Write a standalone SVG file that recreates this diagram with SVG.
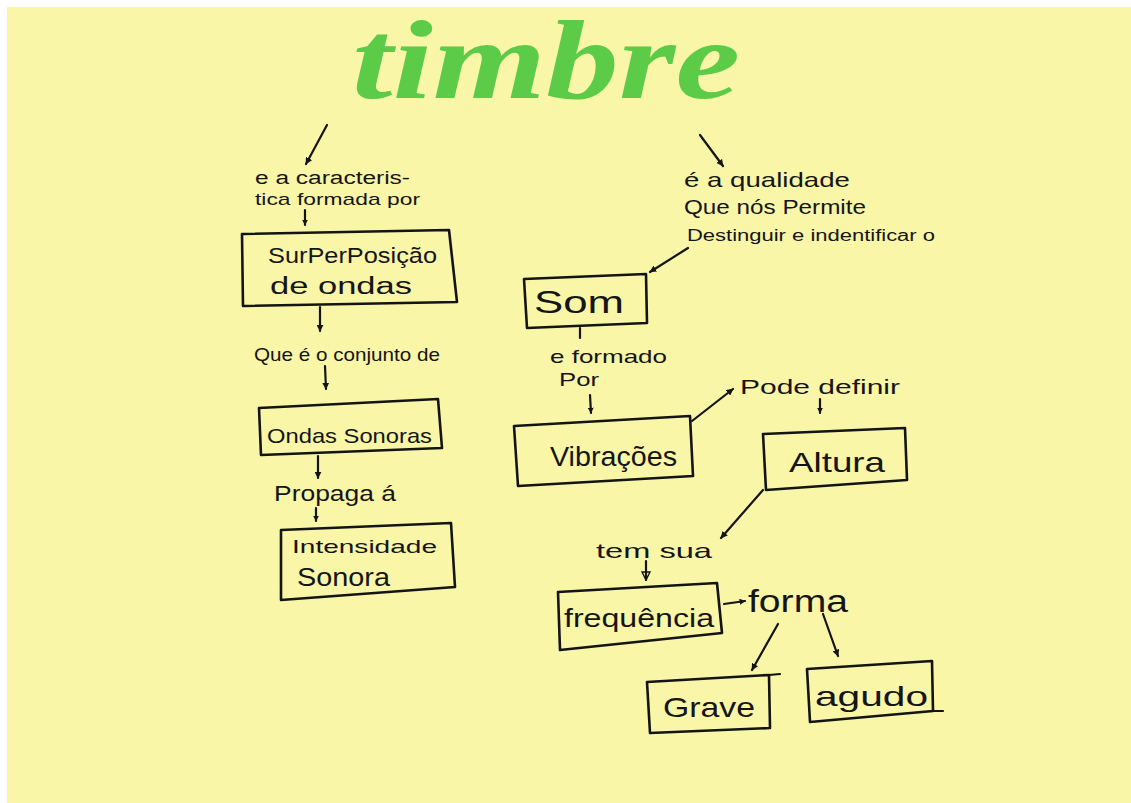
<svg xmlns="http://www.w3.org/2000/svg" width="1131" height="803" viewBox="0 0 1131 803">
<style>
.box{fill:none;stroke:#141414;stroke-width:2.6;stroke-linejoin:round}
.ln{fill:none;stroke:#141414;stroke-width:2.2;stroke-linecap:round}
.t{font-family:"Liberation Sans",Arial,sans-serif;fill:#151515}
.title{font-family:"Liberation Serif",serif;font-style:italic;font-weight:bold;fill:#5ccb48}
</style>
<defs>
<marker id="ah" viewBox="0 0 10 10" refX="9" refY="5" markerWidth="7" markerHeight="7" orient="auto" markerUnits="userSpaceOnUse">
<path d="M0,0 L10,5 L0,10 z" fill="#141414"/>
</marker>
<marker id="ahs" viewBox="0 0 10 10" refX="9" refY="5" markerWidth="6" markerHeight="6" orient="auto" markerUnits="userSpaceOnUse">
<path d="M0,0 L10,5 L0,10 z" fill="#141414"/>
</marker>
<marker id="aho" viewBox="0 0 10 10" refX="9" refY="5" markerWidth="10" markerHeight="10" orient="auto" markerUnits="userSpaceOnUse">
<path d="M1,1 L9,5 L1,9 z" fill="none" stroke="#141414" stroke-width="1.4"/>
</marker>
</defs>
<rect x="0" y="0" width="1131" height="803" fill="#ffffff"/>
<rect x="7" y="7" width="1124" height="796" fill="#f9f6a8"/>

<g id="title"><text class="title" x="352" y="98" font-size="112" textLength="388" lengthAdjust="spacingAndGlyphs">timbre</text></g>

<g id="connectors">
<line class="ln" x1="327" y1="125" x2="306" y2="164" marker-end="url(#ah)" stroke-width="2.6"/>
<text class="t" x="255" y="184" font-size="18" textLength="155" lengthAdjust="spacingAndGlyphs">e a caracteris-</text>
<text class="t" x="255" y="205" font-size="17" textLength="165" lengthAdjust="spacingAndGlyphs">tica formada por</text>
<line class="ln" x1="305" y1="210" x2="305" y2="225" marker-end="url(#ahs)"/>
<line class="ln" x1="320" y1="307" x2="320" y2="331" marker-end="url(#ah)"/>
<text class="t" x="254" y="361" font-size="19" textLength="186" lengthAdjust="spacingAndGlyphs">Que é o conjunto de</text>
<line class="ln" x1="325" y1="366" x2="326" y2="389" marker-end="url(#ah)"/>
<line class="ln" x1="318" y1="456" x2="318" y2="478" marker-end="url(#ah)"/>
<text class="t" x="274" y="501" font-size="22" textLength="122" lengthAdjust="spacingAndGlyphs">Propaga á</text>
<line class="ln" x1="316" y1="508" x2="316" y2="521" marker-end="url(#ahs)"/>

<line class="ln" x1="700" y1="135" x2="723" y2="166" marker-end="url(#ah)" stroke-width="2.6"/>
<text class="t" x="684" y="187" font-size="21" textLength="166" lengthAdjust="spacingAndGlyphs">é a qualidade</text>
<text class="t" x="684" y="214" font-size="20" textLength="182" lengthAdjust="spacingAndGlyphs">Que nós Permite</text>
<text class="t" x="687" y="241" font-size="16" textLength="248" lengthAdjust="spacingAndGlyphs">Destinguir e indentificar o</text>
<line class="ln" x1="688" y1="248" x2="650" y2="272" marker-end="url(#ah)"/>
<line class="ln" x1="580" y1="328" x2="580" y2="338"/>
<text class="t" x="550" y="363" font-size="19" textLength="117" lengthAdjust="spacingAndGlyphs">e formado</text>
<text class="t" x="559" y="386" font-size="19" textLength="40" lengthAdjust="spacingAndGlyphs">Por</text>
<line class="ln" x1="590" y1="395" x2="591" y2="413" marker-end="url(#ahs)"/>
<line class="ln" x1="692" y1="421" x2="733" y2="389" marker-end="url(#ah)"/>
<text class="t" x="740" y="394" font-size="21" textLength="160" lengthAdjust="spacingAndGlyphs">Pode definir</text>
<line class="ln" x1="820" y1="399" x2="820" y2="413" marker-end="url(#ahs)"/>
<line class="ln" x1="763" y1="490" x2="721" y2="538" marker-end="url(#ah)"/>
<text class="t" x="596" y="558" font-size="21" textLength="116" lengthAdjust="spacingAndGlyphs">tem sua</text>
<line class="ln" x1="646" y1="561" x2="646" y2="580" marker-end="url(#aho)"/>
<line class="ln" x1="724" y1="604" x2="745" y2="601" marker-end="url(#ahs)"/>
<text class="t" x="748" y="612" font-size="31" textLength="100" lengthAdjust="spacingAndGlyphs">forma</text>
<line class="ln" x1="778" y1="624" x2="752" y2="670" marker-end="url(#ah)"/>
<line class="ln" x1="823" y1="614" x2="838" y2="656" marker-end="url(#ah)"/>
</g>

<g id="node-superposicao">
<polygon class="box" points="242,234 449,230 457,302 243,306"/>
<text class="t" x="268" y="263" font-size="22" textLength="169" lengthAdjust="spacingAndGlyphs">SurPerPosição</text>
<text class="t" x="270" y="294" font-size="23" textLength="142" lengthAdjust="spacingAndGlyphs">de ondas</text>
</g>
<g id="node-ondas">
<polygon class="box" points="259,408 438,399 442,448 261,455"/>
<text class="t" x="267" y="443" font-size="21" textLength="165" lengthAdjust="spacingAndGlyphs">Ondas Sonoras</text>
</g>
<g id="node-intensidade">
<polygon class="box" points="281,530 451,523 455,587 281,600"/>
<text class="t" x="292" y="553" font-size="19" textLength="145" lengthAdjust="spacingAndGlyphs">Intensidade</text>
<text class="t" x="297" y="586" font-size="25" textLength="93" lengthAdjust="spacingAndGlyphs">Sonora</text>
</g>
<g id="node-som">
<polygon class="box" points="524,279 646,274 647,323 527,328"/>
<text class="t" x="534" y="313" font-size="31" textLength="90" lengthAdjust="spacingAndGlyphs">Som</text>
</g>
<g id="node-vibracoes">
<polygon class="box" points="514,426 690,416 693,476 518,486"/>
<text class="t" x="550" y="466" font-size="28" textLength="127" lengthAdjust="spacingAndGlyphs">Vibrações</text>
</g>
<g id="node-altura">
<polygon class="box" points="763,434 905,428 907,480 766,490"/>
<text class="t" x="789" y="472" font-size="28" textLength="96" lengthAdjust="spacingAndGlyphs">Altura</text>
</g>
<g id="node-frequencia">
<polygon class="box" points="558,592 717,583 722,633 560,650"/>
<text class="t" x="564" y="627" font-size="26" textLength="150" lengthAdjust="spacingAndGlyphs">frequência</text>
</g>
<g id="node-grave">
<polygon class="box" points="647,682 769,675 770,728 650,733"/>
<line class="ln" x1="769" y1="675" x2="780" y2="674"/>
<text class="t" x="663" y="717" font-size="28" textLength="92" lengthAdjust="spacingAndGlyphs">Grave</text>
</g>
<g id="node-agudo">
<polygon class="box" points="807,669 932,661 933,711 810,722"/>
<line class="ln" x1="933" y1="711" x2="943" y2="711"/>
<text class="t" x="815" y="706" font-size="28" textLength="113" lengthAdjust="spacingAndGlyphs">agudo</text>
</g>
</svg>
